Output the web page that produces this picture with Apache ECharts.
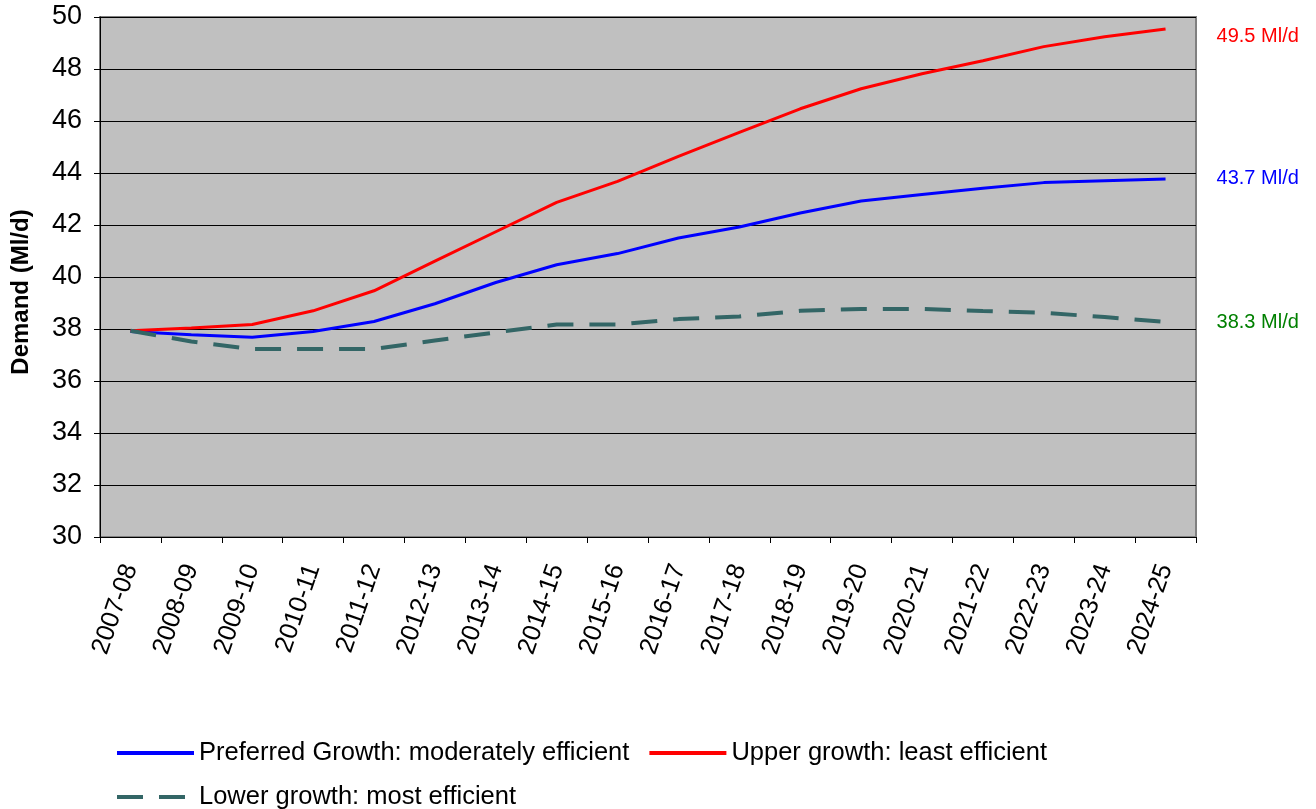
<!DOCTYPE html>
<html>
<head>
<meta charset="utf-8">
<script src="https://cdn.jsdelivr.net/npm/echarts@6/dist/echarts.min.js"></script>
<style>html,body{margin:0;padding:0;background:#fff}#c{width:1316px;height:809px}</style>
</head>
<body>
<div id="c"></div>
<script>
var categories = ['2007-08','2008-09','2009-10','2010-11','2011-12','2012-13','2013-14','2014-15','2015-16','2016-17','2017-18','2018-19','2019-20','2020-21','2021-22','2022-23','2023-24','2024-25'];
var preferred = [37.9,37.78,37.68,37.9,38.29,38.97,39.79,40.47,40.9,41.5,41.92,42.46,42.92,43.17,43.41,43.63,43.7,43.77];
var upper = [37.93,38.04,38.17,38.7,39.47,40.61,41.74,42.87,43.68,44.64,45.56,46.47,47.24,47.82,48.32,48.86,49.24,49.54];
var lower = [37.93,37.52,37.23,37.23,37.23,37.56,37.87,38.17,38.17,38.38,38.48,38.7,38.77,38.77,38.69,38.62,38.46,38.27];
var yTicks = {min:30, max:50, interval:2};
var endLabels = ['43.7 Ml/d','49.5 Ml/d','38.3 Ml/d'];

var FONT = '"Liberation Sans", Arial, sans-serif';
var chart = echarts.init(document.getElementById('c'), null, {renderer:'canvas'});
function mkSeries(name, data, color, lineType, width, labelText, labelColor, offY){
  return {
    name: name, type: 'line', data: data, symbol: 'none', smooth: false,
    lineStyle: {color: color, width: width, type: lineType},
    itemStyle: {color: color},
    endLabel: {show: true, formatter: labelText, color: labelColor, fontSize: 20, fontFamily: FONT, distance: 51, offset:[0, offY]},
    animation: false
  };
}
var legendCommon = {
  orient: 'horizontal', itemWidth: 77, itemHeight: 14, itemGap: 18,
  itemStyle: {opacity: 0},
  lineStyle: {width: 4},
  textStyle: {fontSize: 25.5, fontFamily: FONT, color: '#000'}
};
chart.setOption({
  backgroundColor: '#ffffff',
  animation: false,
  grid: {left: 100, top: 17, right: 120, bottom: 272, show: true, backgroundColor: '#c0c0c0', borderColor: '#808080', borderWidth: 2},
  legend: [
    Object.assign({data: ['Preferred Growth: moderately efficient','Upper growth: least efficient'], left: 110, top: 735}, legendCommon),
    Object.assign({data: ['Lower growth: most efficient'], left: 110, top: 779}, legendCommon)
  ],
  xAxis: {
    type: 'category', data: categories, boundaryGap: true,
    axisLine: {lineStyle: {color: '#000', width: 1}},
    axisTick: {show: true, interval: 0, length: 6, lineStyle: {color: '#000'}},
    axisLabel: {interval: 0, rotate: 71, fontSize: 25.5, fontFamily: FONT, color: '#000', margin: 28},
    splitLine: {show: false}
  },
  yAxis: {
    type: 'value', min: yTicks.min, max: yTicks.max, interval: yTicks.interval,
    name: 'Demand (Ml/d)', nameLocation: 'middle', nameGap: 67, nameRotate: 90,
    nameTextStyle: {fontSize: 24, fontWeight: 'bold', fontFamily: FONT, color: '#000', padding: [0, 30, 0, 0]},
    axisLine: {show: true, lineStyle: {color: '#000', width: 1}},
    axisTick: {show: true, length: 6, lineStyle: {color: '#000'}},
    axisLabel: {fontSize: 27, fontFamily: FONT, color: '#000', margin: 18},
    splitLine: {show: true, lineStyle: {color: '#000', width: 1}}
  },
  series: [
    mkSeries('Preferred Growth: moderately efficient', preferred, '#0000ff', 'solid', 3, endLabels[0], '#0000ff', 0),
    mkSeries('Upper growth: least efficient', upper, '#ff0000', 'solid', 3, endLabels[1], '#ff0000', 8),
    mkSeries('Lower growth: most efficient', lower, '#336666', [26, 16], 4, endLabels[2], '#008000', 1)
  ]
});
</script>
</body>
</html>
